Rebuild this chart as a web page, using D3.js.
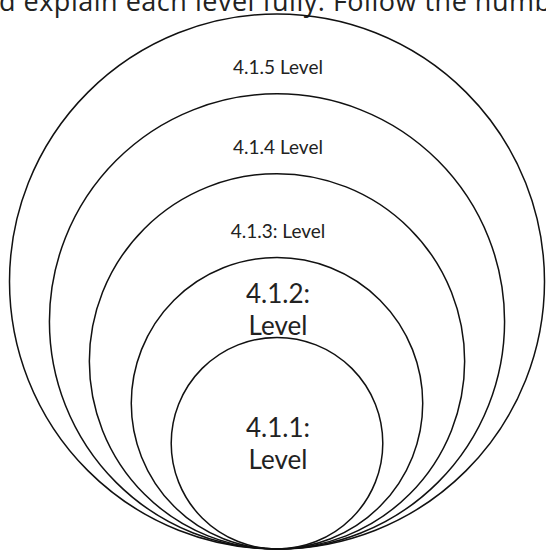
<!DOCTYPE html>
<html>
<head>
<meta charset="utf-8">
<script src="https://cdn.jsdelivr.net/npm/d3@7"></script>
<style>
  html, body { margin: 0; padding: 0; background: #fff; }
  svg { display: block; }
</style>
</head>
<body>
<svg></svg>
<script>
let width = 546
let height = 550

// levels from the innermost circle outwards
let levelNames = ["4.1.1", "4.1.2", "4.1.3", "4.1.4", "4.1.5"]
let levelLabels = [["4.1.1:", "Level"], ["4.1.2:", "Level"], ["4.1.3: Level"], ["4.1.4 Level"], ["4.1.5 Level"]]
let levelSizes = [106, 146, 188, 228, 268]
let headerText = "d explain each level fully. Follow the numb"

let bottomX = 277
let bottomY = 549

let svg = d3.select('svg').attr("width", width).attr("height", height)

let rScale = d3.scaleLinear().domain([0, d3.max(levelSizes)]).range([0, 267.5])

let levels = levelNames.map((name, i) => ({name: name, lines: levelLabels[i], r: rScale(levelSizes[i]), i: i}))

// header line cut off at the top of the picture
svg.append("text")
    .attr("x", -1)
    .attr("y", 11)
    .attr("font-family", "'Open Sans', sans-serif")
    .attr("font-size", 27)
    .attr("textLength", 552)
    .attr("lengthAdjust", "spacing")
    .attr("fill", "#222")
    .text(headerText)

svg.selectAll('circle.level')
    .data(levels.slice().reverse())
    .enter()
    .append("circle")
    .attr("class", "level")
    .attr("cx", bottomX)
    .attr("cy", d => bottomY - d.r)
    .attr("r", d => d.r)
    .attr("fill", "none")
    .attr("stroke", "#111")
    .attr("stroke-width", 1.5)

let labelY = d => {
    let top = bottomY - 2 * d.r
    if (d.lines.length > 1) {
        // two line labels sit inside their own circle
        return d.i == 0 ? top + 100 : top + 45
    }
    let innerTop = bottomY - 2 * levels[d.i - 1].r
    return innerTop - 20
}

let labels = svg.selectAll('text.label')
    .data(levels)
    .enter()
    .append("text")
    .attr("class", "label")
    .attr("text-anchor", "middle")
    .attr("font-family", "Lato, 'Open Sans', sans-serif")
    .attr("font-size", d => d.lines.length > 1 ? 26 : 19)
    .attr("fill", "#222")

labels.selectAll("tspan")
    .data(d => d.lines.map((t, k) => ({t: t, k: k, d: d})))
    .enter()
    .append("tspan")
    .attr("x", bottomX + 1)
    .attr("y", l => labelY(l.d) + l.k * 32)
    .text(l => l.t)
</script>
</body>
</html>
